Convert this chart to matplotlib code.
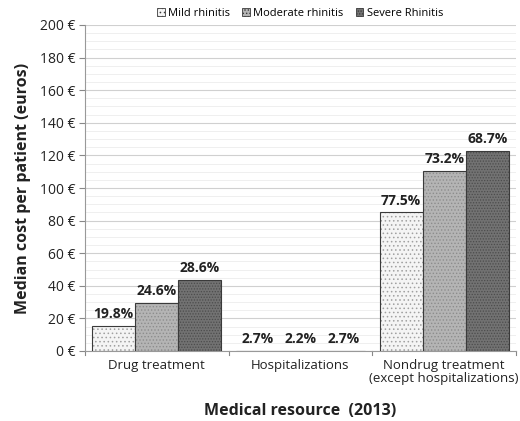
import numpy as np
import matplotlib.pyplot as plt
from matplotlib.patches import Patch

plt.rcParams['font.family'] = ['Open Sans', 'DejaVu Sans']
plt.rcParams['hatch.linewidth'] = 0.6

# data
categories = ['Drug treatment', 'Hospitalizations',
              'Nondrug treatment\n(except hospitalizations)']
series = ['Mild rhinitis', 'Moderate rhinitis', 'Severe Rhinitis']
mild = [15.5, 0, 85]
moderate = [29.5, 0, 110.5]
severe = [43.5, 0, 122.5]
pct_mild = ['19.8%', '2.7%', '77.5%']
pct_moderate = ['24.6%', '2.2%', '73.2%']
pct_severe = ['28.6%', '2.7%', '68.7%']

colors = ['#f4f4f4', '#b4b4b4', '#727272']
hatch_colors = ['#a0a0a0', '#8c8c8c', '#4c4c4c']
hatches = ['....', '.....', '......']

fig = plt.figure(figsize=(5.2, 4.21), dpi=100)
ax = fig.add_axes([85 / 520, 1 - 351 / 421, 431 / 520, 326 / 421])

x = np.arange(len(categories))
w = 0.3
for i, (vals, labs) in enumerate(zip([mild, moderate, severe],
                                     [pct_mild, pct_moderate, pct_severe])):
    pos = x + (i - 1) * w
    bars = ax.bar(pos, vals, w, color=colors[i], edgecolor='#3a3a3a',
                  linewidth=0.8, zorder=3)
    for b in bars:
        b.set_hatch(hatches[i])
        b._hatch_color = plt.matplotlib.colors.to_rgba(hatch_colors[i])
    for p, v, t in zip(pos, vals, labs):
        ax.text(p, v + 3, t, ha='center', va='bottom', fontsize=10,
                fontweight='bold', color='#222222', zorder=4)

ax.set_xlim(-0.5, 2.5)
ax.set_ylim(0, 200)
ax.set_yticks(np.arange(0, 201, 20))
ax.set_yticklabels([f'{v} €' for v in range(0, 201, 20)], fontsize=10,
                   color='#222222')
ax.set_yticks(np.arange(0, 201, 5), minor=True)
ax.grid(axis='y', which='major', color='#d0d0d0', linewidth=0.8, zorder=0)
ax.grid(axis='y', which='minor', color='#ececec', linewidth=0.6, zorder=0)
ax.tick_params(axis='y', which='minor', length=0)
ax.tick_params(axis='y', which='major', length=4, color='#888888', pad=3)

ax.set_xticks(x)
ax.set_xticklabels(categories, fontsize=9.5, color='#222222',
                   linespacing=1.0)
ax.tick_params(axis='x', length=0, pad=6)
for b in [-0.5, 0.5, 1.5, 2.5]:
    ax.plot([b, b], [0, -2.5], color='#888888', lw=0.8, clip_on=False)

for s in ['top', 'right']:
    ax.spines[s].set_visible(False)
ax.spines['left'].set_color('#999999')
ax.spines['bottom'].set_color('#999999')

ax.set_ylabel('Median cost per patient (euros)', fontsize=11.5,
              fontweight='bold', color='#222222', labelpad=6)
ax.set_xlabel('Medical resource  (2013)', fontsize=11.5, fontweight='bold',
              color='#222222', labelpad=13)

handles = []
for i in range(3):
    h = Patch(facecolor=colors[i], edgecolor='#3a3a3a', hatch=hatches[i],
              linewidth=0.6, label=series[i])
    handles.append(h)
fig.legend(handles=handles, loc='center', bbox_to_anchor=(300 / 520, 1 - 13 / 421),
           ncol=3, frameon=False, fontsize=8, handlelength=0.7,
           handleheight=0.7, handletextpad=0.3, columnspacing=1.1)

fig.savefig('out.png', dpi=100)
